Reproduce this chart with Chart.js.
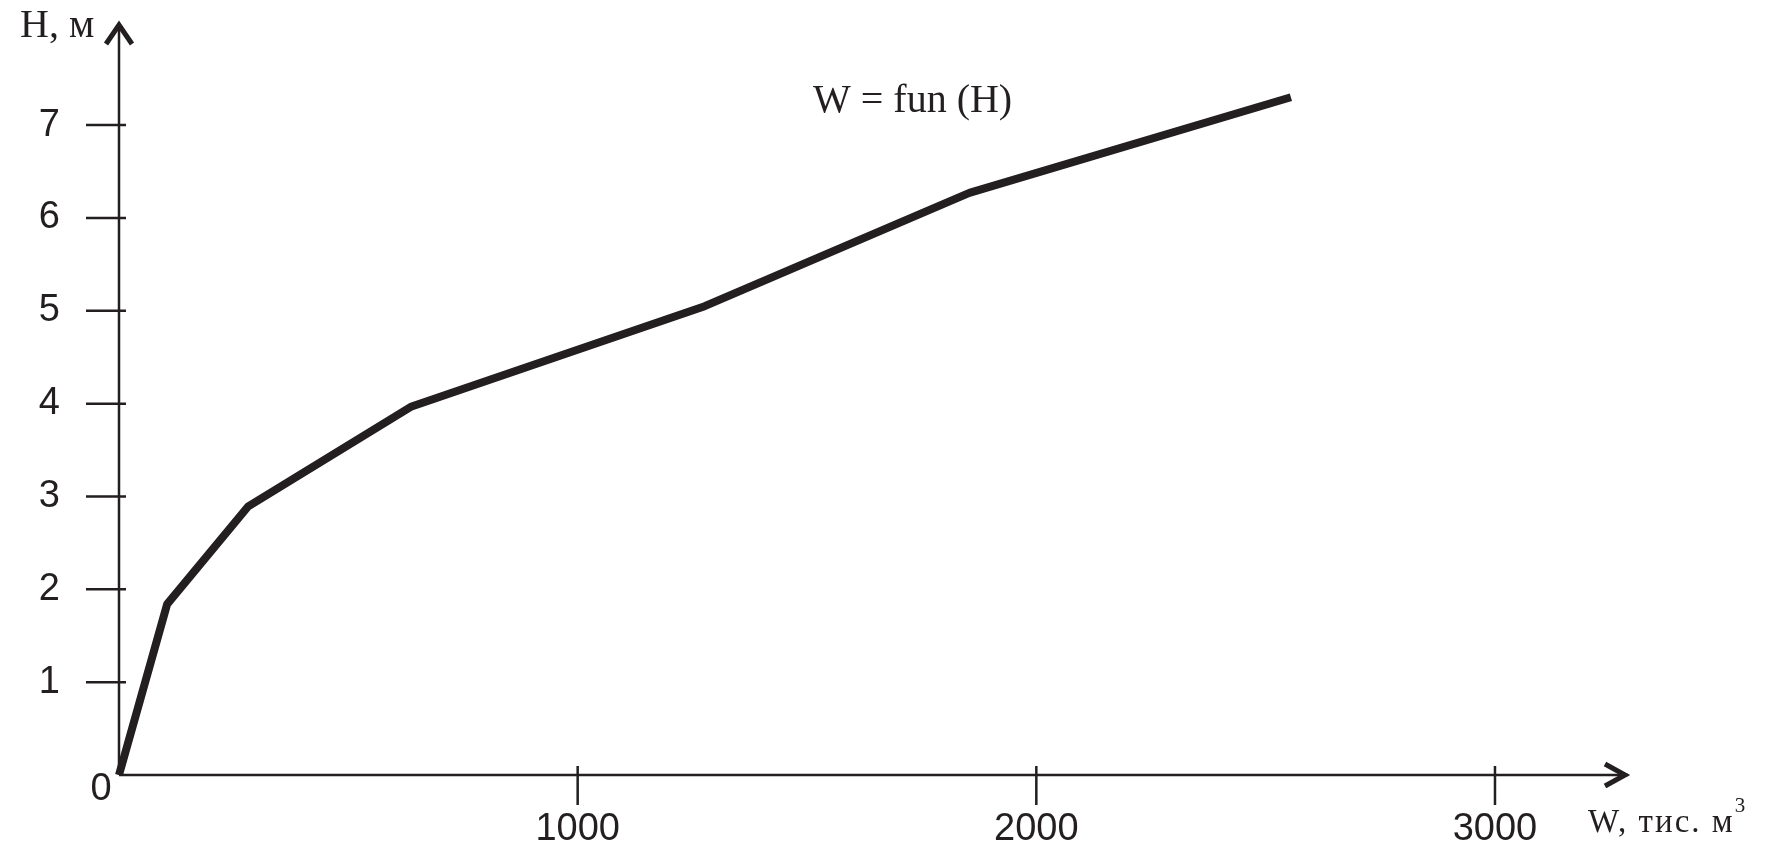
<!DOCTYPE html>
<html>
<head>
<meta charset="utf-8">
<title>W = fun (H)</title>
<script src="https://cdn.jsdelivr.net/npm/chart.js@4.4.1/dist/chart.umd.min.js"></script>
<style>
    html, body { margin: 0; padding: 0; background: #fff; }
    #wrap { width: 1775px; height: 849px; position: relative; }
</style>
</head>
<body>
<div id="wrap"><canvas id="curve"></canvas></div>
<script>
/* ── Data ── */
const wValues = [0, 105, 281, 638, 1277, 1854, 2555];     // W, тис. м3
const hValues = [0, 1.84, 2.89, 3.97, 5.05, 6.27, 7.30];  // H, м
const xTicks = [1000, 2000, 3000];
const yTicks = [1, 2, 3, 4, 5, 6, 7];

const xLabel = 'W, тис. м';
const xLabelSup = '3';
const yLabel = 'H, м';
const curveLabel = 'W = fun (H)';

const INK = '#231f20';
const SANS = "'Liberation Sans', Arial, sans-serif";
const SERIF = "'Liberation Serif', 'Times New Roman', serif";

/* ── Axes with arrows, ticks across the axis, labels ── */
const axesPlugin = {
    id: 'axesPlugin',
    afterDraw(chart) {
        const ctx = chart.ctx;
        const xs = chart.scales.x;
        const ys = chart.scales.y;
        const x0 = xs.getPixelForValue(0);
        const y0 = ys.getPixelForValue(0);
        const xEnd = xs.right;
        const yEnd = ys.top;

        ctx.save();
        ctx.strokeStyle = INK;
        ctx.fillStyle = INK;
        ctx.lineCap = 'butt';

        // axis lines
        ctx.lineWidth = 2.5;
        ctx.beginPath();
        ctx.moveTo(x0, y0);
        ctx.lineTo(xEnd, y0);
        ctx.moveTo(x0, y0);
        ctx.lineTo(x0, yEnd);
        ctx.stroke();

        // tick marks
        ctx.beginPath();
        xTicks.forEach(v => {
            const px = xs.getPixelForValue(v);
            ctx.moveTo(px, y0 - 9);
            ctx.lineTo(px, y0 + 30);
        });
        yTicks.forEach(v => {
            const py = ys.getPixelForValue(v);
            ctx.moveTo(x0 - 33, py);
            ctx.lineTo(x0 + 7, py);
        });
        ctx.stroke();

        // arrow heads
        ctx.lineWidth = 5;
        ctx.lineJoin = 'miter';
        ctx.beginPath();
        ctx.moveTo(x0 - 13, yEnd + 21);
        ctx.lineTo(x0, yEnd + 2);
        ctx.lineTo(x0 + 13, yEnd + 21);
        ctx.moveTo(xEnd - 23, y0 - 11);
        ctx.lineTo(xEnd - 3, y0);
        ctx.lineTo(xEnd - 23, y0 + 11);
        ctx.stroke();

        // origin label
        ctx.font = '38px ' + SANS;
        ctx.textAlign = 'center';
        ctx.textBaseline = 'middle';
        ctx.fillText('0', x0 - 18, y0 + 15);

        // axis titles and curve label
        ctx.textAlign = 'left';
        ctx.textBaseline = 'alphabetic';
        ctx.font = '40px ' + SERIF;
        ctx.fillText(yLabel, 20, 37);

        ctx.font = '33px ' + SERIF;
        ctx.letterSpacing = '2px';
        ctx.fillText(xLabel, 1588, 832);
        const w = ctx.measureText(xLabel).width;
        ctx.letterSpacing = '0px';
        ctx.font = '21px ' + SERIF;
        ctx.fillText(xLabelSup, 1588 + w, 812);

        ctx.font = '40px ' + SERIF;
        ctx.fillText(curveLabel, 813, 112);
        ctx.restore();
    }
};

new Chart(document.getElementById('curve'), {
    type: 'line',
    data: {
        datasets: [{
            label: curveLabel,
            data: wValues.map((w, i) => ({ x: w, y: hValues[i] })),
            borderColor: INK,
            borderWidth: 8,
            borderJoinStyle: 'round',
            borderCapStyle: 'butt',
            pointRadius: 0,
            tension: 0,
            fill: false,
            clip: false
        }]
    },
    options: {
        responsive: true,
        maintainAspectRatio: false,
        animation: false,
        layout: { padding: { left: 0, right: 147, top: 23, bottom: 0 } },
        plugins: {
            legend: { display: false },
            tooltip: { enabled: false }
        },
        scales: {
            x: {
                type: 'linear',
                min: 0, max: 3290,
                grid: { display: false },
                border: { display: false },
                afterBuildTicks: s => { s.ticks = xTicks.map(v => ({ value: v })); },
                afterFit: s => { s.height = 74; s.paddingLeft = 0; s.paddingRight = 0; },
                ticks: {
                    color: INK,
                    padding: 24,
                    maxRotation: 0,
                    font: { family: SANS, size: 38 },
                    callback: v => String(v)
                }
            },
            y: {
                type: 'linear',
                min: 0, max: 8.1,
                grid: { display: false },
                border: { display: false },
                afterBuildTicks: s => { s.ticks = yTicks.map(v => ({ value: v })); },
                afterFit: s => { s.width = 119; s.paddingTop = 0; s.paddingBottom = 0; },
                ticks: {
                    color: INK,
                    padding: 51,
                    font: { family: SANS, size: 38 },
                    callback: v => String(v)
                }
            }
        }
    },
    plugins: [axesPlugin]
});
</script>
</body>
</html>
